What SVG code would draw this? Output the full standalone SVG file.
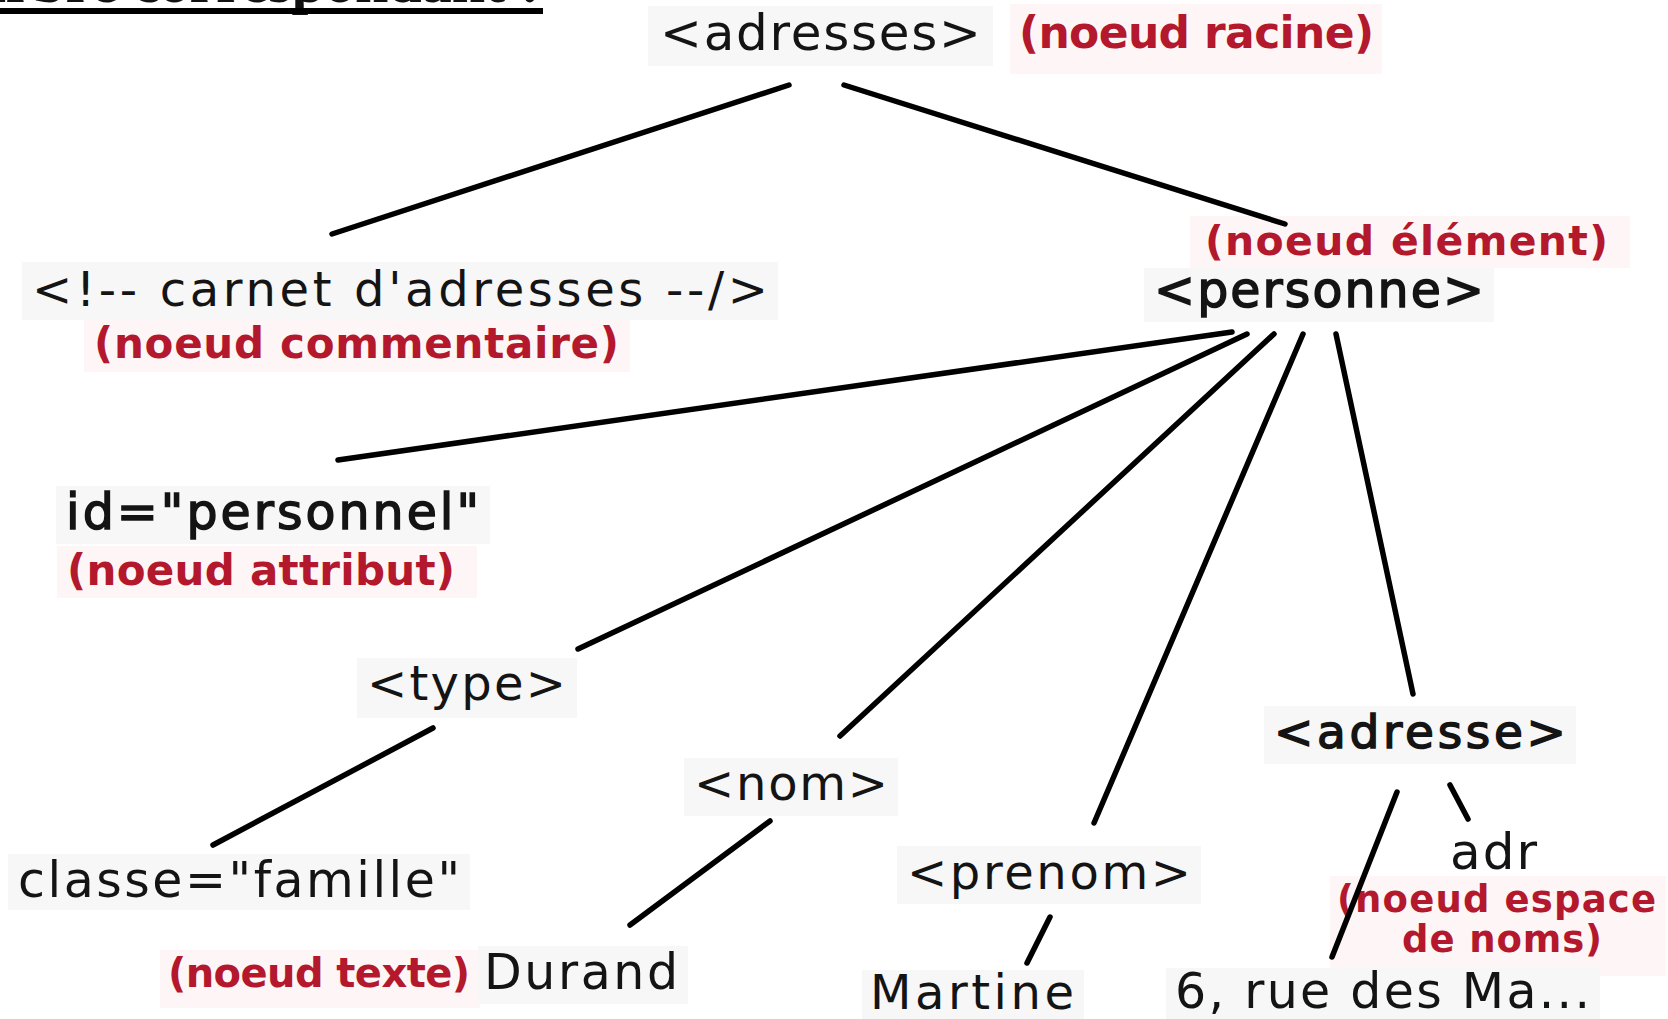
<svg xmlns="http://www.w3.org/2000/svg" width="1668" height="1019" viewBox="0 0 1668 1019">
  <style>
    .bg { fill: #ffffff; }
    .haze { fill: #f7f7f7; }
    .haze-red { fill: #fdf5f6; }
    .tag { font-family: "DejaVu Sans", Verdana, sans-serif; fill: #141414; }
    .heavy { stroke: #141414; stroke-width: 1.5; }
    .note { font-family: "DejaVu Sans", Verdana, sans-serif; font-weight: bold; fill: #b3182d; }
    .edge { stroke: #000; stroke-width: 5.5; stroke-linecap: round; fill: none; }
    .title { font-family: "Liberation Serif", "Times New Roman", serif; font-weight: bold; fill: #111; }
  </style>

  <rect class="bg" x="0" y="0" width="1668" height="1019"/>

  <!-- heading running off the top edge -->
  <g id="heading">
    <text class="title" x="540" y="2" font-size="60" text-anchor="end">Arbre correspondant :</text>
    <rect x="0" y="8" width="543" height="6" fill="#000"/>
  </g>

  <g id="adresses">
    <rect class="haze" x="648" y="6" width="345" height="60"/>
    <text class="tag" x="660" y="50" font-size="50" textLength="321">&lt;adresses&gt;</text>
    <rect class="haze-red" x="1010" y="4" width="372" height="70"/>
    <text class="note" x="1019" y="48" font-size="44" textLength="355">(noeud racine)</text>
  </g>

  <g id="commentaire">
    <rect class="haze" x="22" y="262" width="756" height="58"/>
    <text class="tag" x="32" y="306" font-size="48" textLength="736">&lt;!-- carnet d'adresses --/&gt;</text>
    <rect class="haze-red" x="84" y="320" width="546" height="52"/>
    <text class="note" x="94" y="358" font-size="42" textLength="525">(noeud commentaire)</text>
  </g>

  <g id="personne">
    <rect class="haze-red" x="1190" y="216" width="440" height="52"/>
    <text class="note" x="1205" y="255" font-size="41" textLength="403">(noeud élément)</text>
    <rect class="haze" x="1144" y="268" width="350" height="54"/>
    <text class="tag heavy" x="1154" y="307" font-size="49" textLength="330">&lt;personne&gt;</text>
  </g>

  <g id="attribut">
    <rect class="haze" x="56" y="486" width="434" height="58"/>
    <text class="tag heavy" x="66" y="529" font-size="49" textLength="413">id="personnel"</text>
    <rect class="haze-red" x="57" y="546" width="420" height="52"/>
    <text class="note" x="67" y="585" font-size="42" textLength="388">(noeud attribut)</text>
  </g>

  <g id="type">
    <rect class="haze" x="357" y="658" width="220" height="60"/>
    <text class="tag" x="367" y="700" font-size="48" textLength="199">&lt;type&gt;</text>
  </g>

  <g id="classe">
    <rect class="haze" x="8" y="854" width="462" height="56"/>
    <text class="tag" x="18" y="897" font-size="49" textLength="442">classe="famille"</text>
  </g>

  <g id="nom">
    <rect class="haze" x="684" y="758" width="214" height="58"/>
    <text class="tag" x="694" y="800" font-size="48" textLength="194">&lt;nom&gt;</text>
  </g>

  <g id="durand">
    <rect class="haze-red" x="160" y="950" width="320" height="58"/>
    <text class="note" x="168" y="987" font-size="40" textLength="302">(noeud texte)</text>
    <rect class="haze" x="478" y="946" width="210" height="58"/>
    <text class="tag" x="484" y="989" font-size="49" textLength="194">Durand</text>
  </g>

  <g id="prenom">
    <rect class="haze" x="897" y="846" width="304" height="58"/>
    <text class="tag" x="907" y="889" font-size="48" textLength="284">&lt;prenom&gt;</text>
  </g>

  <g id="martine">
    <rect class="haze" x="862" y="970" width="222" height="49"/>
    <text class="tag" x="870" y="1009" font-size="48" textLength="204">Martine</text>
  </g>

  <g id="adresse">
    <rect class="haze" x="1264" y="706" width="312" height="58"/>
    <text class="tag heavy" x="1274" y="748" font-size="47" textLength="292">&lt;adresse&gt;</text>
  </g>

  <g id="adr">
    <rect class="haze-red" x="1330" y="876" width="336" height="100"/>
    <text class="tag" x="1450" y="869" font-size="50" textLength="87">adr</text>
    <text class="note" x="1337" y="912" font-size="37" textLength="319">(noeud espace</text>
    <text class="note" x="1402" y="952" font-size="37" textLength="200">de noms)</text>
  </g>

  <g id="rue">
    <rect class="haze" x="1166" y="968" width="434" height="51"/>
    <text class="tag" x="1175" y="1008" font-size="49" textLength="415">6, rue des Ma...</text>
  </g>

  <!-- connectors, drawn over the label backgrounds -->
  <g id="connectors">
    <line class="edge" x1="789" y1="85" x2="332" y2="234"/>
    <line class="edge" x1="844" y1="85" x2="1285" y2="224"/>
    <line class="edge" x1="1232" y1="332" x2="338" y2="460"/>
    <line class="edge" x1="1247" y1="334" x2="578" y2="649"/>
    <line class="edge" x1="1274" y1="334" x2="840" y2="736"/>
    <line class="edge" x1="1303" y1="334" x2="1094" y2="823"/>
    <line class="edge" x1="1336" y1="334" x2="1413" y2="694"/>
    <line class="edge" x1="433" y1="728" x2="213" y2="845"/>
    <line class="edge" x1="770" y1="821" x2="630" y2="925"/>
    <line class="edge" x1="1050" y1="917" x2="1027" y2="963"/>
    <line class="edge" x1="1397" y1="792" x2="1332" y2="957"/>
    <line class="edge" x1="1450" y1="785" x2="1468" y2="819"/>
  </g>
</svg>
